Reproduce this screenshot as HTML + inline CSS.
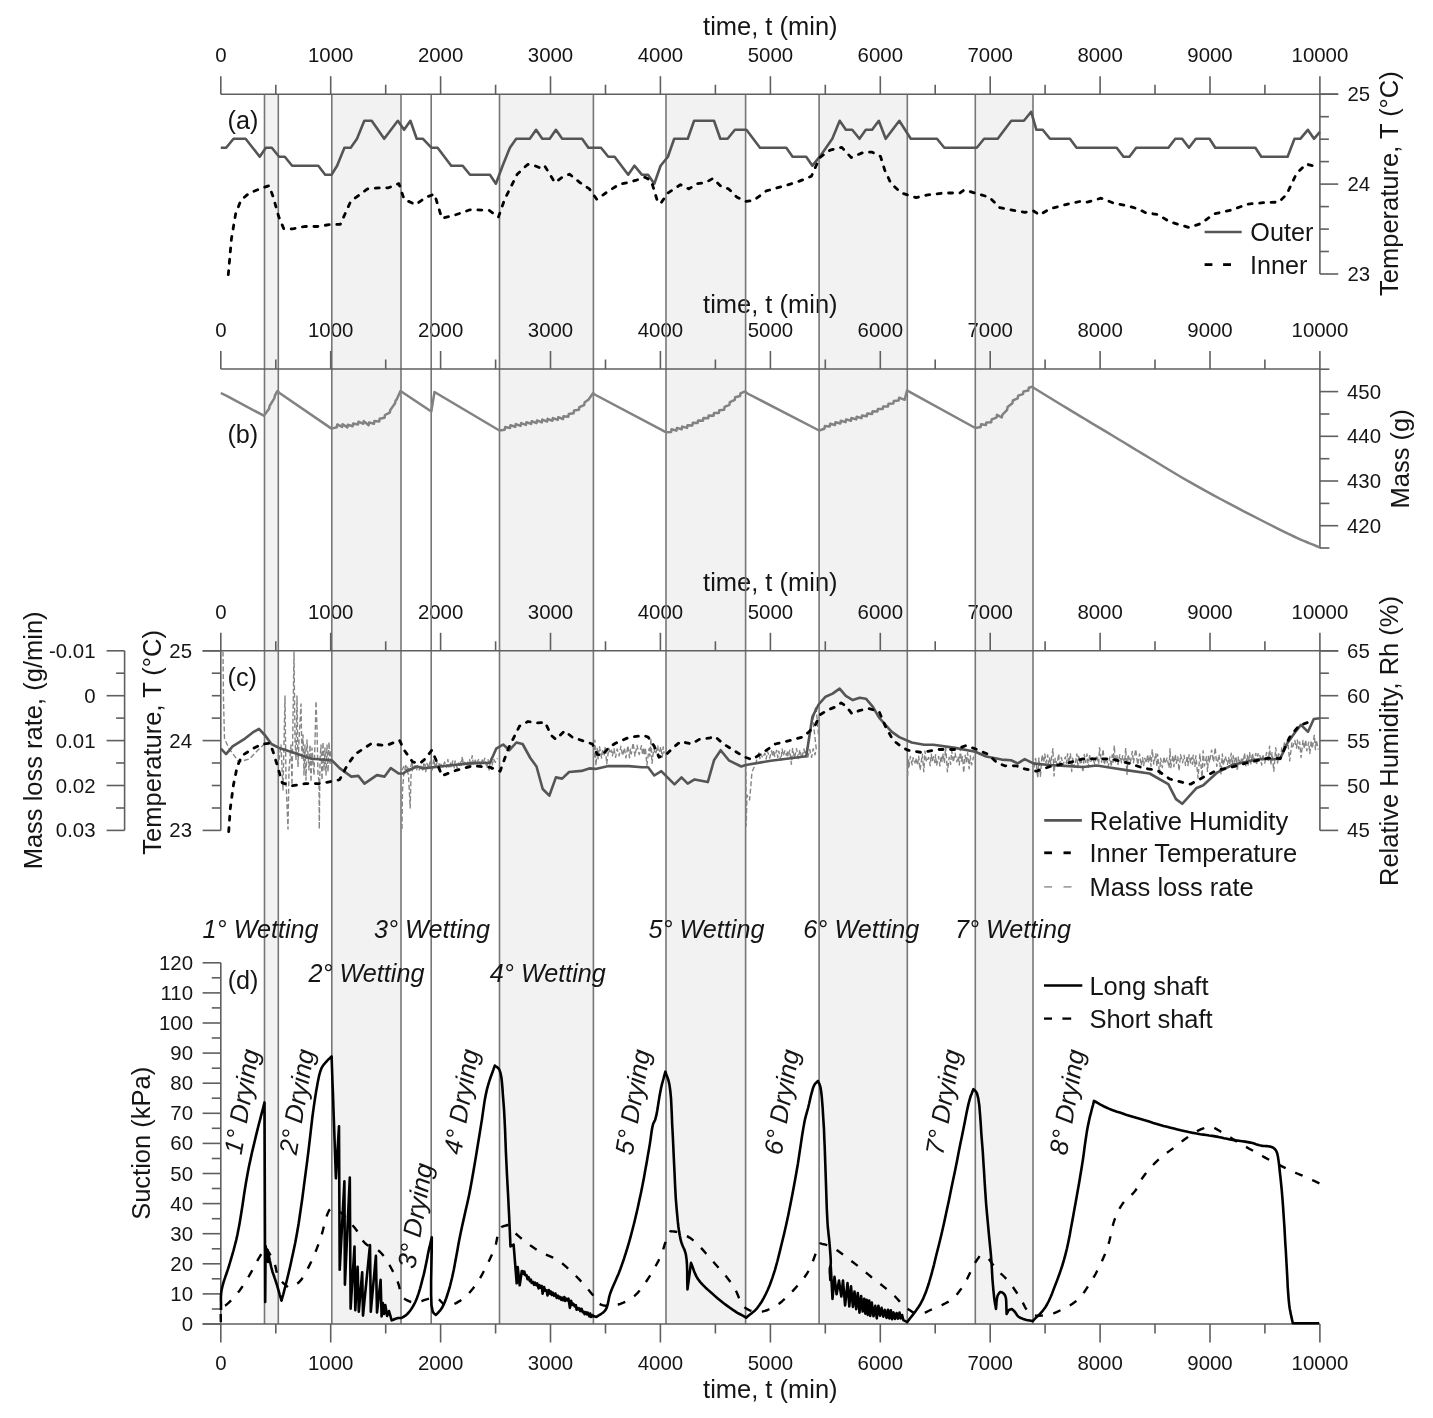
<!DOCTYPE html>
<html><head><meta charset="utf-8"><title>figure</title>
<style>
html,body{margin:0;padding:0;background:#fff;}
svg{display:block;}
text{font-family:"Liberation Sans",Arial,sans-serif;fill:#151515;}
</style></head>
<body>
<svg width="1433" height="1418" viewBox="0 0 1433 1418">
<rect width="1433" height="1418" fill="#fff"/>
<rect x="264.5" y="94.2" width="13.8" height="1229.8" fill="#f2f2f2"/>
<rect x="331.8" y="94.2" width="69.2" height="1229.8" fill="#f2f2f2"/>
<rect x="499.5" y="94.2" width="93.9" height="1229.8" fill="#f2f2f2"/>
<rect x="666.0" y="94.2" width="79.6" height="1229.8" fill="#f2f2f2"/>
<rect x="819.1" y="94.2" width="88.2" height="1229.8" fill="#f2f2f2"/>
<rect x="975.3" y="94.2" width="57.7" height="1229.8" fill="#f2f2f2"/>
<text x="770.3" y="34.5" font-size="25.2" text-anchor="middle" textLength="134.5" lengthAdjust="spacingAndGlyphs">time, t (min)</text>
<text x="770.3" y="313.1" font-size="25.2" text-anchor="middle" textLength="134.5" lengthAdjust="spacingAndGlyphs">time, t (min)</text>
<text x="770.3" y="591.4" font-size="25.2" text-anchor="middle" textLength="134.5" lengthAdjust="spacingAndGlyphs">time, t (min)</text>
<text x="770.3" y="1397.5" font-size="25.2" text-anchor="middle" textLength="134.5" lengthAdjust="spacingAndGlyphs">time, t (min)</text>
<text x="220.8" y="61.8" font-size="20.4" text-anchor="middle" >0</text>
<text x="330.7" y="61.8" font-size="20.4" text-anchor="middle" >1000</text>
<text x="440.6" y="61.8" font-size="20.4" text-anchor="middle" >2000</text>
<text x="550.5" y="61.8" font-size="20.4" text-anchor="middle" >3000</text>
<text x="660.4" y="61.8" font-size="20.4" text-anchor="middle" >4000</text>
<text x="770.4" y="61.8" font-size="20.4" text-anchor="middle" >5000</text>
<text x="880.3" y="61.8" font-size="20.4" text-anchor="middle" >6000</text>
<text x="990.2" y="61.8" font-size="20.4" text-anchor="middle" >7000</text>
<text x="1100.1" y="61.8" font-size="20.4" text-anchor="middle" >8000</text>
<text x="1210.0" y="61.8" font-size="20.4" text-anchor="middle" >9000</text>
<text x="1319.9" y="61.8" font-size="20.4" text-anchor="middle" >10000</text>
<text x="220.8" y="336.5" font-size="20.4" text-anchor="middle" >0</text>
<text x="330.7" y="336.5" font-size="20.4" text-anchor="middle" >1000</text>
<text x="440.6" y="336.5" font-size="20.4" text-anchor="middle" >2000</text>
<text x="550.5" y="336.5" font-size="20.4" text-anchor="middle" >3000</text>
<text x="660.4" y="336.5" font-size="20.4" text-anchor="middle" >4000</text>
<text x="770.4" y="336.5" font-size="20.4" text-anchor="middle" >5000</text>
<text x="880.3" y="336.5" font-size="20.4" text-anchor="middle" >6000</text>
<text x="990.2" y="336.5" font-size="20.4" text-anchor="middle" >7000</text>
<text x="1100.1" y="336.5" font-size="20.4" text-anchor="middle" >8000</text>
<text x="1210.0" y="336.5" font-size="20.4" text-anchor="middle" >9000</text>
<text x="1319.9" y="336.5" font-size="20.4" text-anchor="middle" >10000</text>
<text x="220.8" y="618.5" font-size="20.4" text-anchor="middle" >0</text>
<text x="330.7" y="618.5" font-size="20.4" text-anchor="middle" >1000</text>
<text x="440.6" y="618.5" font-size="20.4" text-anchor="middle" >2000</text>
<text x="550.5" y="618.5" font-size="20.4" text-anchor="middle" >3000</text>
<text x="660.4" y="618.5" font-size="20.4" text-anchor="middle" >4000</text>
<text x="770.4" y="618.5" font-size="20.4" text-anchor="middle" >5000</text>
<text x="880.3" y="618.5" font-size="20.4" text-anchor="middle" >6000</text>
<text x="990.2" y="618.5" font-size="20.4" text-anchor="middle" >7000</text>
<text x="1100.1" y="618.5" font-size="20.4" text-anchor="middle" >8000</text>
<text x="1210.0" y="618.5" font-size="20.4" text-anchor="middle" >9000</text>
<text x="1319.9" y="618.5" font-size="20.4" text-anchor="middle" >10000</text>
<text x="220.8" y="1369.5" font-size="20.4" text-anchor="middle" >0</text>
<text x="330.7" y="1369.5" font-size="20.4" text-anchor="middle" >1000</text>
<text x="440.6" y="1369.5" font-size="20.4" text-anchor="middle" >2000</text>
<text x="550.5" y="1369.5" font-size="20.4" text-anchor="middle" >3000</text>
<text x="660.4" y="1369.5" font-size="20.4" text-anchor="middle" >4000</text>
<text x="770.4" y="1369.5" font-size="20.4" text-anchor="middle" >5000</text>
<text x="880.3" y="1369.5" font-size="20.4" text-anchor="middle" >6000</text>
<text x="990.2" y="1369.5" font-size="20.4" text-anchor="middle" >7000</text>
<text x="1100.1" y="1369.5" font-size="20.4" text-anchor="middle" >8000</text>
<text x="1210.0" y="1369.5" font-size="20.4" text-anchor="middle" >9000</text>
<text x="1319.9" y="1369.5" font-size="20.4" text-anchor="middle" >10000</text>
<text x="227.6" y="129.3" font-size="25.2" text-anchor="start" >(a)</text>
<text x="227.4" y="442.5" font-size="25.2" text-anchor="start" >(b)</text>
<text x="227.6" y="685.5" font-size="25.2" text-anchor="start" >(c)</text>
<text x="227.7" y="988.5" font-size="25.2" text-anchor="start" >(d)</text>
<line x1="264.5" y1="94.2" x2="264.5" y2="1324.0" stroke="#767676" stroke-width="1.6"/>
<line x1="278.3" y1="94.2" x2="278.3" y2="1324.0" stroke="#767676" stroke-width="1.6"/>
<line x1="331.8" y1="94.2" x2="331.8" y2="1324.0" stroke="#767676" stroke-width="1.6"/>
<line x1="401.0" y1="94.2" x2="401.0" y2="1324.0" stroke="#767676" stroke-width="1.6"/>
<line x1="431.2" y1="94.2" x2="431.2" y2="1324.0" stroke="#767676" stroke-width="1.6"/>
<line x1="499.5" y1="94.2" x2="499.5" y2="1324.0" stroke="#767676" stroke-width="1.6"/>
<line x1="593.4" y1="94.2" x2="593.4" y2="1324.0" stroke="#767676" stroke-width="1.6"/>
<line x1="666.0" y1="94.2" x2="666.0" y2="1324.0" stroke="#767676" stroke-width="1.6"/>
<line x1="745.6" y1="94.2" x2="745.6" y2="1324.0" stroke="#767676" stroke-width="1.6"/>
<line x1="819.1" y1="94.2" x2="819.1" y2="1324.0" stroke="#767676" stroke-width="1.6"/>
<line x1="907.3" y1="94.2" x2="907.3" y2="1324.0" stroke="#767676" stroke-width="1.6"/>
<line x1="975.3" y1="94.2" x2="975.3" y2="1324.0" stroke="#767676" stroke-width="1.6"/>
<line x1="1033.0" y1="94.2" x2="1033.0" y2="1324.0" stroke="#767676" stroke-width="1.6"/>
<line x1="220.8" y1="94.2" x2="1319.9" y2="94.2" stroke="#5f5f5f" stroke-width="1.6"/>
<line x1="220.8" y1="94.2" x2="220.8" y2="76.2" stroke="#5f5f5f" stroke-width="1.6"/>
<line x1="275.8" y1="94.2" x2="275.8" y2="84.7" stroke="#5f5f5f" stroke-width="1.6"/>
<line x1="330.7" y1="94.2" x2="330.7" y2="76.2" stroke="#5f5f5f" stroke-width="1.6"/>
<line x1="385.7" y1="94.2" x2="385.7" y2="84.7" stroke="#5f5f5f" stroke-width="1.6"/>
<line x1="440.6" y1="94.2" x2="440.6" y2="76.2" stroke="#5f5f5f" stroke-width="1.6"/>
<line x1="495.6" y1="94.2" x2="495.6" y2="84.7" stroke="#5f5f5f" stroke-width="1.6"/>
<line x1="550.5" y1="94.2" x2="550.5" y2="76.2" stroke="#5f5f5f" stroke-width="1.6"/>
<line x1="605.5" y1="94.2" x2="605.5" y2="84.7" stroke="#5f5f5f" stroke-width="1.6"/>
<line x1="660.4" y1="94.2" x2="660.4" y2="76.2" stroke="#5f5f5f" stroke-width="1.6"/>
<line x1="715.4" y1="94.2" x2="715.4" y2="84.7" stroke="#5f5f5f" stroke-width="1.6"/>
<line x1="770.4" y1="94.2" x2="770.4" y2="76.2" stroke="#5f5f5f" stroke-width="1.6"/>
<line x1="825.3" y1="94.2" x2="825.3" y2="84.7" stroke="#5f5f5f" stroke-width="1.6"/>
<line x1="880.3" y1="94.2" x2="880.3" y2="76.2" stroke="#5f5f5f" stroke-width="1.6"/>
<line x1="935.2" y1="94.2" x2="935.2" y2="84.7" stroke="#5f5f5f" stroke-width="1.6"/>
<line x1="990.2" y1="94.2" x2="990.2" y2="76.2" stroke="#5f5f5f" stroke-width="1.6"/>
<line x1="1045.1" y1="94.2" x2="1045.1" y2="84.7" stroke="#5f5f5f" stroke-width="1.6"/>
<line x1="1100.1" y1="94.2" x2="1100.1" y2="76.2" stroke="#5f5f5f" stroke-width="1.6"/>
<line x1="1155.0" y1="94.2" x2="1155.0" y2="84.7" stroke="#5f5f5f" stroke-width="1.6"/>
<line x1="1210.0" y1="94.2" x2="1210.0" y2="76.2" stroke="#5f5f5f" stroke-width="1.6"/>
<line x1="1264.9" y1="94.2" x2="1264.9" y2="84.7" stroke="#5f5f5f" stroke-width="1.6"/>
<line x1="1319.9" y1="94.2" x2="1319.9" y2="76.2" stroke="#5f5f5f" stroke-width="1.6"/>
<line x1="1319.9" y1="94.2" x2="1319.9" y2="274.0" stroke="#5f5f5f" stroke-width="1.6"/>
<line x1="1319.9" y1="94.2" x2="1338.2" y2="94.2" stroke="#5f5f5f" stroke-width="1.6"/>
<line x1="1319.9" y1="94.2" x2="1338.2" y2="94.2" stroke="#5f5f5f" stroke-width="1.6"/>
<line x1="1319.9" y1="116.7" x2="1328.9" y2="116.7" stroke="#5f5f5f" stroke-width="1.6"/>
<line x1="1319.9" y1="139.2" x2="1328.9" y2="139.2" stroke="#5f5f5f" stroke-width="1.6"/>
<line x1="1319.9" y1="161.6" x2="1328.9" y2="161.6" stroke="#5f5f5f" stroke-width="1.6"/>
<line x1="1319.9" y1="184.1" x2="1338.2" y2="184.1" stroke="#5f5f5f" stroke-width="1.6"/>
<line x1="1319.9" y1="206.6" x2="1328.9" y2="206.6" stroke="#5f5f5f" stroke-width="1.6"/>
<line x1="1319.9" y1="229.1" x2="1328.9" y2="229.1" stroke="#5f5f5f" stroke-width="1.6"/>
<line x1="1319.9" y1="251.5" x2="1328.9" y2="251.5" stroke="#5f5f5f" stroke-width="1.6"/>
<line x1="1319.9" y1="274.0" x2="1338.2" y2="274.0" stroke="#5f5f5f" stroke-width="1.6"/>
<text x="1347.5" y="101.2" font-size="20.4" text-anchor="start" >25</text>
<text x="1347.5" y="191.1" font-size="20.4" text-anchor="start" >24</text>
<text x="1347.5" y="281.0" font-size="20.4" text-anchor="start" >23</text>
<line x1="220.8" y1="369.0" x2="1319.9" y2="369.0" stroke="#5f5f5f" stroke-width="1.6"/>
<line x1="220.8" y1="369.0" x2="220.8" y2="351.0" stroke="#5f5f5f" stroke-width="1.6"/>
<line x1="275.8" y1="369.0" x2="275.8" y2="359.5" stroke="#5f5f5f" stroke-width="1.6"/>
<line x1="330.7" y1="369.0" x2="330.7" y2="351.0" stroke="#5f5f5f" stroke-width="1.6"/>
<line x1="385.7" y1="369.0" x2="385.7" y2="359.5" stroke="#5f5f5f" stroke-width="1.6"/>
<line x1="440.6" y1="369.0" x2="440.6" y2="351.0" stroke="#5f5f5f" stroke-width="1.6"/>
<line x1="495.6" y1="369.0" x2="495.6" y2="359.5" stroke="#5f5f5f" stroke-width="1.6"/>
<line x1="550.5" y1="369.0" x2="550.5" y2="351.0" stroke="#5f5f5f" stroke-width="1.6"/>
<line x1="605.5" y1="369.0" x2="605.5" y2="359.5" stroke="#5f5f5f" stroke-width="1.6"/>
<line x1="660.4" y1="369.0" x2="660.4" y2="351.0" stroke="#5f5f5f" stroke-width="1.6"/>
<line x1="715.4" y1="369.0" x2="715.4" y2="359.5" stroke="#5f5f5f" stroke-width="1.6"/>
<line x1="770.4" y1="369.0" x2="770.4" y2="351.0" stroke="#5f5f5f" stroke-width="1.6"/>
<line x1="825.3" y1="369.0" x2="825.3" y2="359.5" stroke="#5f5f5f" stroke-width="1.6"/>
<line x1="880.3" y1="369.0" x2="880.3" y2="351.0" stroke="#5f5f5f" stroke-width="1.6"/>
<line x1="935.2" y1="369.0" x2="935.2" y2="359.5" stroke="#5f5f5f" stroke-width="1.6"/>
<line x1="990.2" y1="369.0" x2="990.2" y2="351.0" stroke="#5f5f5f" stroke-width="1.6"/>
<line x1="1045.1" y1="369.0" x2="1045.1" y2="359.5" stroke="#5f5f5f" stroke-width="1.6"/>
<line x1="1100.1" y1="369.0" x2="1100.1" y2="351.0" stroke="#5f5f5f" stroke-width="1.6"/>
<line x1="1155.0" y1="369.0" x2="1155.0" y2="359.5" stroke="#5f5f5f" stroke-width="1.6"/>
<line x1="1210.0" y1="369.0" x2="1210.0" y2="351.0" stroke="#5f5f5f" stroke-width="1.6"/>
<line x1="1264.9" y1="369.0" x2="1264.9" y2="359.5" stroke="#5f5f5f" stroke-width="1.6"/>
<line x1="1319.9" y1="369.0" x2="1319.9" y2="351.0" stroke="#5f5f5f" stroke-width="1.6"/>
<line x1="1319.9" y1="369.0" x2="1319.9" y2="548.6" stroke="#5f5f5f" stroke-width="1.6"/>
<line x1="1319.9" y1="369.2" x2="1329.4" y2="369.2" stroke="#5f5f5f" stroke-width="1.6"/>
<line x1="1319.9" y1="391.6" x2="1338.2" y2="391.6" stroke="#5f5f5f" stroke-width="1.6"/>
<line x1="1319.9" y1="414.0" x2="1329.4" y2="414.0" stroke="#5f5f5f" stroke-width="1.6"/>
<line x1="1319.9" y1="436.3" x2="1338.2" y2="436.3" stroke="#5f5f5f" stroke-width="1.6"/>
<line x1="1319.9" y1="458.7" x2="1329.4" y2="458.7" stroke="#5f5f5f" stroke-width="1.6"/>
<line x1="1319.9" y1="481.0" x2="1338.2" y2="481.0" stroke="#5f5f5f" stroke-width="1.6"/>
<line x1="1319.9" y1="503.4" x2="1329.4" y2="503.4" stroke="#5f5f5f" stroke-width="1.6"/>
<line x1="1319.9" y1="525.7" x2="1338.2" y2="525.7" stroke="#5f5f5f" stroke-width="1.6"/>
<line x1="1319.9" y1="548.0" x2="1329.4" y2="548.0" stroke="#5f5f5f" stroke-width="1.6"/>
<text x="1347.0" y="398.6" font-size="20.4" text-anchor="start" >450</text>
<text x="1347.0" y="443.3" font-size="20.4" text-anchor="start" >440</text>
<text x="1347.0" y="488.0" font-size="20.4" text-anchor="start" >430</text>
<text x="1347.0" y="532.7" font-size="20.4" text-anchor="start" >420</text>
<line x1="220.8" y1="650.8" x2="1319.9" y2="650.8" stroke="#5f5f5f" stroke-width="1.6"/>
<line x1="220.8" y1="650.8" x2="220.8" y2="632.8" stroke="#5f5f5f" stroke-width="1.6"/>
<line x1="275.8" y1="650.8" x2="275.8" y2="641.3" stroke="#5f5f5f" stroke-width="1.6"/>
<line x1="330.7" y1="650.8" x2="330.7" y2="632.8" stroke="#5f5f5f" stroke-width="1.6"/>
<line x1="385.7" y1="650.8" x2="385.7" y2="641.3" stroke="#5f5f5f" stroke-width="1.6"/>
<line x1="440.6" y1="650.8" x2="440.6" y2="632.8" stroke="#5f5f5f" stroke-width="1.6"/>
<line x1="495.6" y1="650.8" x2="495.6" y2="641.3" stroke="#5f5f5f" stroke-width="1.6"/>
<line x1="550.5" y1="650.8" x2="550.5" y2="632.8" stroke="#5f5f5f" stroke-width="1.6"/>
<line x1="605.5" y1="650.8" x2="605.5" y2="641.3" stroke="#5f5f5f" stroke-width="1.6"/>
<line x1="660.4" y1="650.8" x2="660.4" y2="632.8" stroke="#5f5f5f" stroke-width="1.6"/>
<line x1="715.4" y1="650.8" x2="715.4" y2="641.3" stroke="#5f5f5f" stroke-width="1.6"/>
<line x1="770.4" y1="650.8" x2="770.4" y2="632.8" stroke="#5f5f5f" stroke-width="1.6"/>
<line x1="825.3" y1="650.8" x2="825.3" y2="641.3" stroke="#5f5f5f" stroke-width="1.6"/>
<line x1="880.3" y1="650.8" x2="880.3" y2="632.8" stroke="#5f5f5f" stroke-width="1.6"/>
<line x1="935.2" y1="650.8" x2="935.2" y2="641.3" stroke="#5f5f5f" stroke-width="1.6"/>
<line x1="990.2" y1="650.8" x2="990.2" y2="632.8" stroke="#5f5f5f" stroke-width="1.6"/>
<line x1="1045.1" y1="650.8" x2="1045.1" y2="641.3" stroke="#5f5f5f" stroke-width="1.6"/>
<line x1="1100.1" y1="650.8" x2="1100.1" y2="632.8" stroke="#5f5f5f" stroke-width="1.6"/>
<line x1="1155.0" y1="650.8" x2="1155.0" y2="641.3" stroke="#5f5f5f" stroke-width="1.6"/>
<line x1="1210.0" y1="650.8" x2="1210.0" y2="632.8" stroke="#5f5f5f" stroke-width="1.6"/>
<line x1="1264.9" y1="650.8" x2="1264.9" y2="641.3" stroke="#5f5f5f" stroke-width="1.6"/>
<line x1="1319.9" y1="650.8" x2="1319.9" y2="632.8" stroke="#5f5f5f" stroke-width="1.6"/>
<line x1="202.6" y1="650.8" x2="220.8" y2="650.8" stroke="#5f5f5f" stroke-width="1.6"/>
<line x1="220.8" y1="650.8" x2="220.8" y2="830.4" stroke="#5f5f5f" stroke-width="1.6"/>
<line x1="1319.9" y1="650.8" x2="1319.9" y2="830.4" stroke="#5f5f5f" stroke-width="1.6"/>
<line x1="1319.9" y1="650.8" x2="1338.2" y2="650.8" stroke="#5f5f5f" stroke-width="1.6"/>
<line x1="202.6" y1="650.8" x2="220.8" y2="650.8" stroke="#5f5f5f" stroke-width="1.6"/>
<line x1="1319.9" y1="650.8" x2="1338.2" y2="650.8" stroke="#5f5f5f" stroke-width="1.6"/>
<line x1="211.8" y1="673.2" x2="220.8" y2="673.2" stroke="#5f5f5f" stroke-width="1.6"/>
<line x1="1319.9" y1="673.2" x2="1328.9" y2="673.2" stroke="#5f5f5f" stroke-width="1.6"/>
<line x1="211.8" y1="695.7" x2="220.8" y2="695.7" stroke="#5f5f5f" stroke-width="1.6"/>
<line x1="1319.9" y1="695.7" x2="1338.2" y2="695.7" stroke="#5f5f5f" stroke-width="1.6"/>
<line x1="211.8" y1="718.1" x2="220.8" y2="718.1" stroke="#5f5f5f" stroke-width="1.6"/>
<line x1="1319.9" y1="718.1" x2="1328.9" y2="718.1" stroke="#5f5f5f" stroke-width="1.6"/>
<line x1="202.6" y1="740.6" x2="220.8" y2="740.6" stroke="#5f5f5f" stroke-width="1.6"/>
<line x1="1319.9" y1="740.6" x2="1338.2" y2="740.6" stroke="#5f5f5f" stroke-width="1.6"/>
<line x1="211.8" y1="763.0" x2="220.8" y2="763.0" stroke="#5f5f5f" stroke-width="1.6"/>
<line x1="1319.9" y1="763.0" x2="1328.9" y2="763.0" stroke="#5f5f5f" stroke-width="1.6"/>
<line x1="211.8" y1="785.5" x2="220.8" y2="785.5" stroke="#5f5f5f" stroke-width="1.6"/>
<line x1="1319.9" y1="785.5" x2="1338.2" y2="785.5" stroke="#5f5f5f" stroke-width="1.6"/>
<line x1="211.8" y1="808.0" x2="220.8" y2="808.0" stroke="#5f5f5f" stroke-width="1.6"/>
<line x1="1319.9" y1="808.0" x2="1328.9" y2="808.0" stroke="#5f5f5f" stroke-width="1.6"/>
<line x1="202.6" y1="830.4" x2="220.8" y2="830.4" stroke="#5f5f5f" stroke-width="1.6"/>
<line x1="1319.9" y1="830.4" x2="1338.2" y2="830.4" stroke="#5f5f5f" stroke-width="1.6"/>
<text x="192.0" y="657.8" font-size="20.4" text-anchor="end" >25</text>
<text x="192.0" y="747.6" font-size="20.4" text-anchor="end" >24</text>
<text x="192.0" y="837.4" font-size="20.4" text-anchor="end" >23</text>
<text x="1347.1" y="657.8" font-size="20.4" text-anchor="start" >65</text>
<text x="1347.1" y="702.7" font-size="20.4" text-anchor="start" >60</text>
<text x="1347.1" y="747.6" font-size="20.4" text-anchor="start" >55</text>
<text x="1347.1" y="792.5" font-size="20.4" text-anchor="start" >50</text>
<text x="1347.1" y="837.4" font-size="20.4" text-anchor="start" >45</text>
<line x1="124.6" y1="650.8" x2="124.6" y2="830.4" stroke="#5f5f5f" stroke-width="1.6"/>
<line x1="106.6" y1="650.8" x2="124.6" y2="650.8" stroke="#5f5f5f" stroke-width="1.6"/>
<line x1="116.1" y1="673.2" x2="124.6" y2="673.2" stroke="#5f5f5f" stroke-width="1.6"/>
<line x1="106.6" y1="695.7" x2="124.6" y2="695.7" stroke="#5f5f5f" stroke-width="1.6"/>
<line x1="116.1" y1="718.1" x2="124.6" y2="718.1" stroke="#5f5f5f" stroke-width="1.6"/>
<line x1="106.6" y1="740.6" x2="124.6" y2="740.6" stroke="#5f5f5f" stroke-width="1.6"/>
<line x1="116.1" y1="763.0" x2="124.6" y2="763.0" stroke="#5f5f5f" stroke-width="1.6"/>
<line x1="106.6" y1="785.5" x2="124.6" y2="785.5" stroke="#5f5f5f" stroke-width="1.6"/>
<line x1="116.1" y1="808.0" x2="124.6" y2="808.0" stroke="#5f5f5f" stroke-width="1.6"/>
<line x1="106.6" y1="830.4" x2="124.6" y2="830.4" stroke="#5f5f5f" stroke-width="1.6"/>
<text x="95.5" y="657.8" font-size="20.4" text-anchor="end" >-0.01</text>
<text x="95.5" y="702.7" font-size="20.4" text-anchor="end" >0</text>
<text x="95.5" y="747.6" font-size="20.4" text-anchor="end" >0.01</text>
<text x="95.5" y="792.5" font-size="20.4" text-anchor="end" >0.02</text>
<text x="95.5" y="837.4" font-size="20.4" text-anchor="end" >0.03</text>
<line x1="202.6" y1="1324.0" x2="1319.9" y2="1324.0" stroke="#5f5f5f" stroke-width="1.6"/>
<line x1="220.8" y1="962.8" x2="220.8" y2="1324.0" stroke="#5f5f5f" stroke-width="1.6"/>
<line x1="220.8" y1="1324.0" x2="220.8" y2="1342.5" stroke="#5f5f5f" stroke-width="1.6"/>
<line x1="275.8" y1="1324.0" x2="275.8" y2="1333.5" stroke="#5f5f5f" stroke-width="1.6"/>
<line x1="330.7" y1="1324.0" x2="330.7" y2="1342.5" stroke="#5f5f5f" stroke-width="1.6"/>
<line x1="385.7" y1="1324.0" x2="385.7" y2="1333.5" stroke="#5f5f5f" stroke-width="1.6"/>
<line x1="440.6" y1="1324.0" x2="440.6" y2="1342.5" stroke="#5f5f5f" stroke-width="1.6"/>
<line x1="495.6" y1="1324.0" x2="495.6" y2="1333.5" stroke="#5f5f5f" stroke-width="1.6"/>
<line x1="550.5" y1="1324.0" x2="550.5" y2="1342.5" stroke="#5f5f5f" stroke-width="1.6"/>
<line x1="605.5" y1="1324.0" x2="605.5" y2="1333.5" stroke="#5f5f5f" stroke-width="1.6"/>
<line x1="660.4" y1="1324.0" x2="660.4" y2="1342.5" stroke="#5f5f5f" stroke-width="1.6"/>
<line x1="715.4" y1="1324.0" x2="715.4" y2="1333.5" stroke="#5f5f5f" stroke-width="1.6"/>
<line x1="770.4" y1="1324.0" x2="770.4" y2="1342.5" stroke="#5f5f5f" stroke-width="1.6"/>
<line x1="825.3" y1="1324.0" x2="825.3" y2="1333.5" stroke="#5f5f5f" stroke-width="1.6"/>
<line x1="880.3" y1="1324.0" x2="880.3" y2="1342.5" stroke="#5f5f5f" stroke-width="1.6"/>
<line x1="935.2" y1="1324.0" x2="935.2" y2="1333.5" stroke="#5f5f5f" stroke-width="1.6"/>
<line x1="990.2" y1="1324.0" x2="990.2" y2="1342.5" stroke="#5f5f5f" stroke-width="1.6"/>
<line x1="1045.1" y1="1324.0" x2="1045.1" y2="1333.5" stroke="#5f5f5f" stroke-width="1.6"/>
<line x1="1100.1" y1="1324.0" x2="1100.1" y2="1342.5" stroke="#5f5f5f" stroke-width="1.6"/>
<line x1="1155.0" y1="1324.0" x2="1155.0" y2="1333.5" stroke="#5f5f5f" stroke-width="1.6"/>
<line x1="1210.0" y1="1324.0" x2="1210.0" y2="1342.5" stroke="#5f5f5f" stroke-width="1.6"/>
<line x1="1264.9" y1="1324.0" x2="1264.9" y2="1333.5" stroke="#5f5f5f" stroke-width="1.6"/>
<line x1="1319.9" y1="1324.0" x2="1319.9" y2="1342.5" stroke="#5f5f5f" stroke-width="1.6"/>
<line x1="202.6" y1="1324.0" x2="220.8" y2="1324.0" stroke="#5f5f5f" stroke-width="1.6"/>
<text x="193.0" y="1331.0" font-size="20.4" text-anchor="end" >0</text>
<line x1="211.8" y1="1309.0" x2="220.8" y2="1309.0" stroke="#5f5f5f" stroke-width="1.6"/>
<line x1="202.6" y1="1293.9" x2="220.8" y2="1293.9" stroke="#5f5f5f" stroke-width="1.6"/>
<text x="193.0" y="1300.9" font-size="20.4" text-anchor="end" >10</text>
<line x1="211.8" y1="1278.8" x2="220.8" y2="1278.8" stroke="#5f5f5f" stroke-width="1.6"/>
<line x1="202.6" y1="1263.8" x2="220.8" y2="1263.8" stroke="#5f5f5f" stroke-width="1.6"/>
<text x="193.0" y="1270.8" font-size="20.4" text-anchor="end" >20</text>
<line x1="211.8" y1="1248.8" x2="220.8" y2="1248.8" stroke="#5f5f5f" stroke-width="1.6"/>
<line x1="202.6" y1="1233.7" x2="220.8" y2="1233.7" stroke="#5f5f5f" stroke-width="1.6"/>
<text x="193.0" y="1240.7" font-size="20.4" text-anchor="end" >30</text>
<line x1="211.8" y1="1218.7" x2="220.8" y2="1218.7" stroke="#5f5f5f" stroke-width="1.6"/>
<line x1="202.6" y1="1203.6" x2="220.8" y2="1203.6" stroke="#5f5f5f" stroke-width="1.6"/>
<text x="193.0" y="1210.6" font-size="20.4" text-anchor="end" >40</text>
<line x1="211.8" y1="1188.5" x2="220.8" y2="1188.5" stroke="#5f5f5f" stroke-width="1.6"/>
<line x1="202.6" y1="1173.5" x2="220.8" y2="1173.5" stroke="#5f5f5f" stroke-width="1.6"/>
<text x="193.0" y="1180.5" font-size="20.4" text-anchor="end" >50</text>
<line x1="211.8" y1="1158.5" x2="220.8" y2="1158.5" stroke="#5f5f5f" stroke-width="1.6"/>
<line x1="202.6" y1="1143.4" x2="220.8" y2="1143.4" stroke="#5f5f5f" stroke-width="1.6"/>
<text x="193.0" y="1150.4" font-size="20.4" text-anchor="end" >60</text>
<line x1="211.8" y1="1128.3" x2="220.8" y2="1128.3" stroke="#5f5f5f" stroke-width="1.6"/>
<line x1="202.6" y1="1113.3" x2="220.8" y2="1113.3" stroke="#5f5f5f" stroke-width="1.6"/>
<text x="193.0" y="1120.3" font-size="20.4" text-anchor="end" >70</text>
<line x1="211.8" y1="1098.2" x2="220.8" y2="1098.2" stroke="#5f5f5f" stroke-width="1.6"/>
<line x1="202.6" y1="1083.2" x2="220.8" y2="1083.2" stroke="#5f5f5f" stroke-width="1.6"/>
<text x="193.0" y="1090.2" font-size="20.4" text-anchor="end" >80</text>
<line x1="211.8" y1="1068.2" x2="220.8" y2="1068.2" stroke="#5f5f5f" stroke-width="1.6"/>
<line x1="202.6" y1="1053.1" x2="220.8" y2="1053.1" stroke="#5f5f5f" stroke-width="1.6"/>
<text x="193.0" y="1060.1" font-size="20.4" text-anchor="end" >90</text>
<line x1="211.8" y1="1038.0" x2="220.8" y2="1038.0" stroke="#5f5f5f" stroke-width="1.6"/>
<line x1="202.6" y1="1023.0" x2="220.8" y2="1023.0" stroke="#5f5f5f" stroke-width="1.6"/>
<text x="193.0" y="1030.0" font-size="20.4" text-anchor="end" >100</text>
<line x1="211.8" y1="1007.9" x2="220.8" y2="1007.9" stroke="#5f5f5f" stroke-width="1.6"/>
<line x1="202.6" y1="992.9" x2="220.8" y2="992.9" stroke="#5f5f5f" stroke-width="1.6"/>
<text x="193.0" y="999.9" font-size="20.4" text-anchor="end" >110</text>
<line x1="211.8" y1="977.8" x2="220.8" y2="977.8" stroke="#5f5f5f" stroke-width="1.6"/>
<line x1="202.6" y1="962.8" x2="220.8" y2="962.8" stroke="#5f5f5f" stroke-width="1.6"/>
<text x="193.0" y="969.8" font-size="20.4" text-anchor="end" >120</text>
<text transform="translate(1397.6,183.6) rotate(-90)" x="0" y="0" font-size="25.5" text-anchor="middle">Temperature, T (&#176;C)</text>
<text transform="translate(1409.0,458.8) rotate(-90)" x="0" y="0" font-size="25.5" text-anchor="middle">Mass (g)</text>
<text transform="translate(1397.8,741.0) rotate(-90)" x="0" y="0" font-size="25.5" text-anchor="middle">Relative Humidity, Rh (%)</text>
<text transform="translate(161.4,742.4) rotate(-90)" x="0" y="0" font-size="25.5" text-anchor="middle">Temperature, T (&#176;C)</text>
<text transform="translate(41.7,740.4) rotate(-90)" x="0" y="0" font-size="25.5" text-anchor="middle">Mass loss rate, (g/min)</text>
<text transform="translate(150.4,1143.3) rotate(-90)" x="0" y="0" font-size="25.5" text-anchor="middle">Suction (kPa)</text>
<line x1="1204.6" y1="232.0" x2="1241.7" y2="232.0" stroke="#555555" stroke-width="2.6"/>
<text x="1250.3" y="240.8" font-size="25.2" text-anchor="start" >Outer</text>
<line x1="1204.6" y1="264.6" x2="1212.4" y2="264.6" stroke="#000" stroke-width="2.8"/>
<line x1="1223.1" y1="264.6" x2="1231.0" y2="264.6" stroke="#000" stroke-width="2.8"/>
<text x="1250.0" y="273.5" font-size="25.2" text-anchor="start" >Inner</text>
<line x1="1044.2" y1="820.4" x2="1081.9" y2="820.4" stroke="#555555" stroke-width="2.6"/>
<text x="1089.8" y="829.5" font-size="25.5" text-anchor="start" >Relative Humidity</text>
<line x1="1044.2" y1="852.8" x2="1052.0" y2="852.8" stroke="#000" stroke-width="2.8"/>
<line x1="1063.5" y1="852.8" x2="1070.8" y2="852.8" stroke="#000" stroke-width="2.8"/>
<text x="1089.4" y="862.0" font-size="25.5" text-anchor="start" >Inner Temperature</text>
<line x1="1044.2" y1="886.9" x2="1052.0" y2="886.9" stroke="#8a8a8a" stroke-width="1.4"/>
<line x1="1063.5" y1="886.9" x2="1071.5" y2="886.9" stroke="#8a8a8a" stroke-width="1.4"/>
<text x="1089.4" y="895.5" font-size="25.5" text-anchor="start" >Mass loss rate</text>
<line x1="1044.0" y1="985.5" x2="1082.3" y2="985.5" stroke="#000" stroke-width="2.3"/>
<text x="1089.4" y="995.0" font-size="25.5" text-anchor="start" >Long shaft</text>
<line x1="1044.0" y1="1018.6" x2="1052.0" y2="1018.6" stroke="#000" stroke-width="2.3"/>
<line x1="1062.4" y1="1018.6" x2="1071.2" y2="1018.6" stroke="#000" stroke-width="2.3"/>
<text x="1089.4" y="1027.8" font-size="25.5" text-anchor="start" >Short shaft</text>
<text x="202.6" y="937.7" font-size="25.2" text-anchor="start"  style="font-style:italic">1&#176; Wetting</text>
<text x="308.4" y="982.3" font-size="25.2" text-anchor="start"  style="font-style:italic">2&#176; Wetting</text>
<text x="374.0" y="937.7" font-size="25.2" text-anchor="start"  style="font-style:italic">3&#176; Wetting</text>
<text x="489.8" y="982.3" font-size="25.2" text-anchor="start"  style="font-style:italic">4&#176; Wetting</text>
<text x="648.4" y="938.3" font-size="25.2" text-anchor="start"  style="font-style:italic">5&#176; Wetting</text>
<text x="803.3" y="938.3" font-size="25.2" text-anchor="start"  style="font-style:italic">6&#176; Wetting</text>
<text x="954.9" y="938.3" font-size="25.2" text-anchor="start"  style="font-style:italic">7&#176; Wetting</text>
<text transform="translate(241.4,1155.6) rotate(-80.3)" x="0" y="0" font-size="25.8" style="font-style:italic">1&#176; Drying</text>
<text transform="translate(296.5,1155.6) rotate(-80.3)" x="0" y="0" font-size="25.8" style="font-style:italic">2&#176; Drying</text>
<text transform="translate(415.0,1269.6) rotate(-80.3)" x="0" y="0" font-size="25.8" style="font-style:italic">3&#176; Drying</text>
<text transform="translate(460.9,1155.6) rotate(-80.3)" x="0" y="0" font-size="25.8" style="font-style:italic">4&#176; Drying</text>
<text transform="translate(632.5,1156.0) rotate(-80.3)" x="0" y="0" font-size="25.8" style="font-style:italic">5&#176; Drying</text>
<text transform="translate(781.4,1156.0) rotate(-80.3)" x="0" y="0" font-size="25.8" style="font-style:italic">6&#176; Drying</text>
<text transform="translate(943.1,1156.0) rotate(-80.3)" x="0" y="0" font-size="25.8" style="font-style:italic">7&#176; Drying</text>
<text transform="translate(1066.8,1156.0) rotate(-80.3)" x="0" y="0" font-size="25.8" style="font-style:italic">8&#176; Drying</text>
<polyline points="220.8,147.7 226.2,147.7 233.5,138.8 245.6,138.8 259.7,156.7 265.9,147.7 271.8,147.7 279.1,156.7 284.8,156.7 292.1,165.7 318.3,165.7 325.2,174.7 331.5,174.7 337.1,165.7 344.4,147.7 350.7,147.7 357.0,138.8 364.3,120.8 371.7,120.8 384.2,138.8 397.8,120.8 404.1,129.8 410.4,120.8 416.7,138.8 423.0,138.8 431.3,147.7 437.6,147.7 451.2,165.7 462.7,165.7 470.0,174.7 489.9,174.7 495.9,183.7 502.6,165.7 509.9,147.7 516.2,138.8 529.8,138.8 536.1,129.8 542.3,138.8 549.7,138.8 555.9,129.8 562.2,138.8 582.1,138.8 588.4,147.7 601.0,147.7 608.3,156.7 614.6,156.7 628.2,174.7 634.4,165.7 641.8,174.7 648.0,174.7 654.3,183.7 660.6,165.7 667.9,156.7 674.2,138.8 687.8,138.8 694.1,120.8 714.0,120.8 720.3,138.8 727.6,138.8 734.9,129.8 746.4,129.8 760.0,147.7 786.3,147.7 792.6,156.7 806.2,156.7 812.4,165.7 819.8,156.7 832.3,138.8 839.7,120.8 845.9,129.8 852.2,129.8 859.5,138.8 865.8,129.8 872.1,129.8 878.8,120.8 885.7,138.8 899.3,120.8 910.8,138.8 937.0,138.8 944.3,147.7 976.8,147.7 984.1,138.8 997.7,138.8 1011.3,120.8 1023.9,120.8 1031.2,111.8 1036.4,129.8 1042.7,129.8 1050.0,138.8 1069.9,138.8 1076.6,147.7 1116.7,147.7 1123.5,156.7 1129.4,156.7 1136.2,147.7 1168.4,147.7 1175.3,138.8 1182.1,138.8 1189.0,147.7 1195.8,138.8 1209.5,138.8 1215.3,147.7 1255.4,147.7 1261.3,156.7 1287.6,156.7 1294.5,138.8 1300.3,138.8 1307.8,129.8 1314.0,138.8 1319.9,131.8" fill="none" stroke="#555555" stroke-width="2.6" stroke-linejoin="round" />
<polyline points="228.3,274.7 231.4,239.1 235.6,214.0 240.8,200.4 249.2,193.0 262.8,187.8 269.1,185.7 273.3,197.2 278.5,216.0 283.7,228.6 292.1,229.0 304.7,226.5 317.2,226.5 330.8,224.4 340.3,224.4 350.7,201.4 367.5,188.9 380.0,187.8 388.4,187.8 398.9,183.6 404.1,199.3 415.6,204.6 426.1,197.2 434.5,194.1 441.8,218.2 453.3,215.6 470.0,209.8 488.9,210.2 498.4,217.1 504.7,199.3 517.2,174.2 527.7,164.4 535.0,165.8 540.2,167.9 544.4,165.4 554.9,182.6 562.2,177.3 569.5,174.2 580.0,182.6 589.4,188.9 596.8,199.3 607.2,192.0 619.8,184.0 628.2,182.6 636.5,180.1 644.9,177.3 651.2,180.5 657.5,201.4 660.6,203.5 667.9,193.0 680.5,184.7 688.9,188.9 697.2,183.6 705.6,182.6 712.9,178.4 720.3,185.7 728.6,188.9 737.0,197.2 745.4,201.4 753.8,200.4 766.3,190.9 781.0,186.8 796.7,182.2 811.4,176.3 819.8,157.5 830.2,150.1 841.8,147.4 851.2,157.5 863.7,152.2 872.1,152.2 880.5,156.4 884.7,170.0 891.0,183.6 901.4,193.0 916.1,197.6 926.5,195.1 943.3,193.0 960.0,193.0 964.2,189.9 974.7,193.0 989.3,197.2 999.8,207.7 1010.3,209.8 1024.9,212.3 1033.3,210.8 1039.6,215.0 1050.0,208.7 1067.8,204.1 1081.5,201.1 1087.4,202.1 1101.0,198.2 1114.7,203.5 1128.4,206.0 1138.2,209.0 1146.0,212.9 1157.7,214.4 1169.4,221.7 1189.0,227.5 1200.7,223.6 1214.4,213.8 1232.0,209.9 1247.6,204.1 1263.2,202.7 1278.8,202.1 1286.7,194.3 1296.4,173.8 1306.2,164.0 1314.0,166.0" fill="none" stroke="#000" stroke-width="2.8" stroke-dasharray="4 7.5" stroke-linejoin="round" stroke-linecap="round"/>
<polyline points="220.8,393.0 227.2,396.2 263.8,415.7 269.1,408.7 269.6,406.0 274.4,398.2 274.9,395.5 277.5,391.0 279.5,393.0 331.5,428.6 336.8,427.2 337.3,424.4 342.1,426.9 342.6,424.2 347.4,427.4 347.9,424.7 352.7,426.2 353.2,423.5 358.0,424.4 358.5,421.7 363.3,423.8 363.8,421.1 368.6,425.2 369.1,422.4 373.9,423.8 374.4,421.1 379.2,421.4 379.7,418.7 384.5,417.7 385.0,415.0 389.8,412.6 390.3,409.9 395.1,403.3 395.6,400.6 396.8,399.3 400.5,391.0 402.0,392.0 431.3,411.5 434.5,392.0 499.4,430.5 504.7,429.7 505.2,427.0 510.0,427.9 510.5,425.2 515.3,426.8 515.8,424.1 520.6,425.9 521.1,423.1 525.9,424.9 526.4,422.2 531.2,423.9 531.7,421.2 536.5,423.1 537.0,420.4 541.8,422.4 542.3,419.6 547.1,421.6 547.6,418.8 552.4,420.8 552.9,418.1 557.7,419.9 558.2,417.2 563.0,419.0 563.5,416.3 568.3,416.7 568.8,414.0 573.6,413.3 574.1,410.6 578.9,409.8 579.4,407.1 584.2,405.0 584.7,402.3 588.4,399.8 593.2,393.1 594.7,394.5 665.8,432.2 671.1,431.9 671.6,429.2 676.4,430.6 676.9,427.9 681.7,429.3 682.2,426.6 687.0,427.9 687.5,425.2 692.3,425.5 692.8,422.8 697.6,423.1 698.1,420.4 702.9,420.7 703.4,418.0 708.2,418.3 708.7,415.5 713.5,415.7 714.0,413.0 718.8,413.0 719.3,410.3 724.1,409.7 724.6,406.9 729.4,404.8 729.9,402.1 734.7,399.9 735.2,397.2 740.0,396.0 740.5,393.3 745.0,391.4 747.5,393.5 819.1,430.5 824.4,428.8 824.9,426.1 829.7,426.5 830.2,423.8 835.0,425.0 835.5,422.3 840.3,423.5 840.8,420.8 845.6,422.1 846.1,419.4 850.9,420.8 851.4,418.0 856.2,419.4 856.7,416.7 861.5,418.1 862.0,415.4 866.8,416.2 867.3,413.5 872.1,413.9 872.6,411.2 877.4,411.6 877.9,408.9 882.7,409.1 883.2,406.4 888.0,406.5 888.5,403.8 893.3,403.6 893.8,400.9 898.6,400.4 899.1,397.7 904.6,399.8 907.1,390.4 908.7,391.4 975.3,428.0 980.6,427.1 981.1,424.3 985.9,425.1 986.4,422.4 991.2,422.2 991.7,419.4 996.5,417.6 997.0,414.8 1001.8,417.5 1002.3,414.8 1007.1,409.8 1007.6,407.0 1012.4,403.3 1012.9,400.5 1017.7,398.3 1018.2,395.6 1023.0,394.1 1023.5,391.4 1028.3,390.5 1028.8,387.8 1032.3,386.8 1034.3,388.3 1060.0,404.0 1063.3,406.0 1066.5,407.9 1069.7,409.9 1073.0,411.9 1076.4,413.9 1080.0,416.1 1084.9,419.0 1090.0,422.1 1095.4,425.3 1100.9,428.6 1106.4,431.9 1112.0,435.3 1118.1,439.0 1124.4,442.8 1130.7,446.6 1137.1,450.5 1143.6,454.3 1150.0,458.2 1156.6,462.2 1163.1,466.2 1169.7,470.2 1176.4,474.2 1183.1,478.2 1190.0,482.2 1197.5,486.4 1205.1,490.6 1212.8,494.8 1220.5,499.0 1228.3,503.1 1236.0,507.2 1243.8,511.3 1251.8,515.4 1259.8,519.5 1267.6,523.5 1274.8,527.1 1281.2,530.3 1284.8,532.1 1288.0,533.7 1291.1,535.1 1294.0,536.5 1296.9,537.9 1300.0,539.3 1303.2,540.7 1306.5,542.0 1309.7,543.4 1313.0,544.7 1316.2,546.0 1319.5,547.3" fill="none" stroke="#828282" stroke-width="2.5" stroke-linejoin="round" />
<polyline points="223.0,651.5 223.5,700.0 224.5,738.6 228.7,748.0 238.8,762.0 249.7,758.8 258.0,750.0 265.2,743.3" fill="none" stroke="#858585" stroke-width="1.4" stroke-dasharray="5 2.5" stroke-linejoin="round" />
<polyline points="279.0,760.0 281.0,745.0 283.0,790.0 285.0,696.0 286.0,781.0 288.0,829.0 289.0,770.0 291.0,745.0 292.0,785.0 294.0,652.0 295.0,739.0 296.0,760.0 297.0,696.0 298.0,767.0 299.0,740.0 301.0,704.0 302.0,760.0 303.0,735.0 304.0,775.0 305.0,745.0 306.0,780.0 307.0,740.0 309.0,770.0 310.0,745.0 311.0,782.0 312.0,748.0 314.0,775.0 315.0,742.0 316.0,701.0 317.0,728.0 318.0,775.0 319.0,781.0 319.3,829.0 320.0,760.0 321.0,745.0 322.0,780.0 323.0,742.0 324.0,770.0 325.0,748.0 326.0,775.0 327.0,745.0 328.0,772.0 329.0,742.0 330.0,765.0 331.0,750.0" fill="none" stroke="#858585" stroke-width="1.4" stroke-dasharray="5 2.5" stroke-linejoin="round" />
<polyline points="402.0,829.0 402.5,790.0 404.0,772.0 406.0,766.0 408.5,775.0 410.2,808.0 411.0,775.0 413.0,768.0 402.0,770.4 403.7,766.6 405.0,769.3 405.8,765.5 406.7,770.5 407.7,766.0 409.8,771.0 412.0,761.1 413.0,769.1 415.0,765.7 416.7,769.8 417.5,766.0 419.3,769.9 420.9,764.6 422.9,770.7 424.5,758.7 425.7,771.7 427.0,763.4 428.5,768.0 430.4,760.0 432.2,769.9 433.7,759.2 435.4,767.7 437.1,762.2 438.3,768.8 439.1,763.7 440.0,767.5 440.9,764.2 443.0,767.2 444.6,761.9 446.6,767.6 447.9,759.5 448.9,767.1 450.4,762.3 451.2,767.6 452.8,761.0 454.3,767.9 455.1,761.0 457.2,768.2 458.5,762.9 459.4,765.4 460.4,762.0 461.1,765.5 462.4,756.6 463.4,765.6 464.7,762.2 466.9,766.0 467.8,762.0 468.9,767.0 469.7,759.5 470.7,765.8 472.2,755.6 473.4,764.9 475.3,760.1 476.5,764.1 478.8,759.0 480.7,765.3 482.3,759.9 483.1,763.6 484.8,758.2 487.0,768.2 488.1,759.7 489.1,769.9 490.6,758.4 491.5,769.4 493.4,758.6 495.3,762.4 497.5,758.4" fill="none" stroke="#858585" stroke-width="1.4" stroke-dasharray="5 2.5" stroke-linejoin="round" />
<polyline points="594.0,757.6 594.9,740.2 595.9,765.7 597.2,748.3 598.0,758.8 599.5,746.7 601.6,758.0 602.7,749.3 604.3,755.0 605.3,746.6 606.7,763.8 608.8,748.2 610.4,753.5 611.4,750.2 612.4,755.8 614.0,748.8 615.6,757.3 617.1,749.0 619.1,755.8 620.9,746.1 622.6,755.7 624.4,747.9 625.9,757.8 627.9,745.7 629.5,757.7 630.5,749.1 631.3,754.0 633.1,742.8 634.9,756.1 637.0,745.3 639.2,754.5 641.4,745.7 642.8,755.0 643.8,747.8 644.6,755.2 645.4,747.7 646.9,765.1 649.1,748.5 649.9,756.2 650.9,738.4 652.0,763.4 653.8,748.4 655.6,754.1 657.8,746.0 658.6,756.3 660.7,746.8 662.3,757.0 663.2,746.9 664.1,753.3" fill="none" stroke="#858585" stroke-width="1.4" stroke-dasharray="5 2.5" stroke-linejoin="round" />
<polyline points="745.9,764.0 746.2,826.0 747.0,795.0 749.6,800.0 752.0,772.0 756.0,763.0 757.0,758.7 758.9,752.7 759.9,758.7 761.0,753.7 762.6,757.7 764.8,753.2 766.2,759.0 767.5,751.4 769.7,758.0 771.5,750.7 772.8,756.4 773.7,750.2 774.7,756.5 776.7,750.3 777.8,757.3 778.8,751.1 781.0,760.4 782.1,748.9 783.4,755.5 784.9,750.6 786.4,755.4 787.3,750.9 788.0,756.7 789.7,750.3 791.4,764.3 792.6,748.4 794.5,758.0 796.5,748.6 798.3,758.5 799.9,749.9 801.8,758.3 803.9,749.0 805.0,754.4 806.3,751.1 807.9,757.0 809.7,749.5 811.6,757.3 813.2,748.7 815.0,754.9 816.2,748.3 813.0,720.0 816.0,706.0 818.5,735.0" fill="none" stroke="#858585" stroke-width="1.4" stroke-dasharray="5 2.5" stroke-linejoin="round" />
<polyline points="907.6,776.0 908.5,760.0 909.0,766.8 910.3,756.5 912.2,764.8 913.1,757.8 915.0,763.1 915.7,758.1 917.5,765.1 918.7,756.1 920.1,770.1 922.3,754.2 923.8,771.8 924.9,751.0 926.5,761.9 928.7,757.4 930.2,765.7 931.3,754.1 932.1,761.0 933.6,756.6 934.8,762.6 935.6,754.6 936.5,765.7 938.6,756.5 939.9,766.0 941.2,755.8 942.1,761.3 943.2,753.6 944.4,763.3 945.7,747.0 947.4,771.8 949.2,757.2 950.6,764.4 951.8,750.7 953.3,762.2 955.1,753.1 956.9,761.9 958.2,756.4 959.3,765.0 960.4,748.6 961.3,761.2 962.6,756.6 963.7,772.7 965.1,755.2 966.4,761.8 967.6,752.8 969.1,768.8 970.2,755.7 971.6,764.9 973.7,756.5" fill="none" stroke="#858585" stroke-width="1.4" stroke-dasharray="5 2.5" stroke-linejoin="round" />
<polyline points="1034.0,767.4 1035.6,758.4 1037.8,778.2 1038.9,757.9 1040.4,776.2 1042.1,754.7 1043.7,762.2 1044.8,754.0 1046.0,762.8 1047.7,755.0 1048.6,765.1 1049.9,757.3 1050.7,763.8 1052.9,748.6 1054.0,776.0 1055.2,758.3 1057.0,764.5 1058.7,754.0 1059.5,764.0 1061.3,757.4 1063.1,765.0 1065.3,756.9 1066.4,763.3 1067.6,753.8 1068.7,763.3 1070.4,753.8 1071.7,771.5 1072.6,758.1 1074.7,767.3 1076.9,753.9 1077.9,767.6 1078.7,755.2 1080.1,764.0 1080.8,757.1 1083.0,772.1 1084.3,754.5 1085.7,762.3 1087.0,754.0 1088.3,767.4 1089.6,754.5 1090.5,762.2 1092.6,757.2 1094.7,764.0 1096.9,755.4 1098.7,763.9 1099.5,747.6 1101.6,762.1 1103.1,749.2 1104.2,764.6 1106.4,757.5 1108.2,766.9 1109.9,756.8 1111.2,766.7 1112.2,754.8 1113.1,762.2 1114.3,745.4 1115.4,762.5 1116.9,755.0 1118.0,764.5 1119.8,754.8 1121.5,762.7 1122.7,755.7 1124.6,763.2 1125.7,748.0 1127.0,774.5 1128.1,754.5 1130.3,762.6 1132.3,751.4 1133.5,762.7 1135.7,749.3 1137.7,764.7 1139.6,753.9 1141.3,765.7 1142.6,757.7 1143.7,765.6 1144.8,758.3 1146.5,763.1 1147.6,754.6 1148.4,762.6 1150.0,755.3 1151.0,766.2 1152.2,749.7 1153.8,764.1 1155.8,753.6 1156.9,766.4 1157.6,754.1 1159.6,774.1 1160.6,758.3 1162.3,767.5 1164.0,756.6 1165.0,763.7 1167.1,757.9 1169.1,767.8 1170.0,748.6 1170.8,767.6 1172.9,755.4 1173.9,766.7 1175.3,754.3 1176.3,763.3 1177.8,756.6 1179.0,770.7 1180.6,754.8 1182.6,762.7 1184.1,755.3 1185.5,765.4 1187.3,756.1 1188.0,765.6 1189.1,754.6 1190.6,762.9 1191.5,757.6 1192.4,764.4 1193.2,755.1 1195.0,766.4 1195.9,755.7 1198.0,778.0 1199.9,754.1 1202.1,777.2 1203.1,750.8 1204.4,766.0 1206.5,756.6 1207.5,771.4 1208.6,755.4 1209.4,762.5 1211.6,750.1 1213.5,762.0 1215.2,747.6 1216.8,766.4 1219.0,754.7 1221.0,773.9 1222.3,754.0 1223.3,765.4 1225.3,756.4 1227.5,764.4 1228.7,757.5 1229.7,764.5 1231.2,753.3 1232.3,764.7 1233.1,755.7 1234.3,762.1 1236.0,756.4 1237.4,770.7 1238.4,756.9 1240.5,765.2 1241.6,757.2 1243.2,762.7 1244.6,752.9 1245.8,765.8 1247.3,755.3 1248.1,765.0 1249.7,752.8 1250.8,763.9 1252.5,753.3 1253.7,762.1 1255.8,753.4 1256.5,765.1 1258.0,753.6 1259.1,760.9 1259.9,755.4 1261.7,765.0 1262.8,754.4 1264.8,763.1 1266.5,752.5 1268.5,760.2 1269.6,746.1 1270.9,764.9 1272.0,752.7 1273.8,771.2 1275.8,747.8 1277.6,763.0 1278.7,753.8 1280.8,758.5 1281.7,748.0 1282.7,753.0 1284.5,742.1 1286.3,747.1 1287.6,739.9 1289.7,760.9 1291.9,742.9 1292.8,746.8 1294.8,740.5 1296.5,748.0 1297.4,739.9 1298.6,748.7 1299.7,741.9 1301.0,757.5 1303.0,740.4 1304.4,748.6 1305.7,740.0 1306.8,750.8 1308.7,742.2 1309.8,753.5 1311.3,740.7 1312.3,748.6 1314.3,735.2 1315.4,749.6 1316.3,740.0 1318.2,749.5" fill="none" stroke="#858585" stroke-width="1.4" stroke-dasharray="5 2.5" stroke-linejoin="round" />
<polyline points="220.9,748.7 226.1,754.1 232.6,746.4 245.0,738.6 252.8,732.4 259.0,728.8 265.2,735.5 271.4,744.0 279.1,747.9 293.1,752.6 311.7,758.8 331.9,760.3 339.6,768.1 351.3,776.6 358.3,775.9 364.5,783.6 376.9,775.1 384.6,776.6 390.8,768.1 398.6,773.5 403.3,773.5 406.2,771.2 417.1,766.5 423.3,768.4 446.5,765.8 469.8,763.4 490.0,762.7 496.2,748.7 503.2,744.5 509.4,750.2 516.4,742.5 522.6,744.0 530.3,758.0 536.5,766.5 542.7,789.0 549.3,795.7 555.9,777.4 562.1,778.6 569.1,772.0 581.5,770.9 589.3,768.4 595.5,768.9 608.5,766.1 628.7,766.1 641.9,767.3 648.1,767.3 654.3,775.5 661.3,771.2 666.7,776.6 674.5,784.4 681.5,777.4 687.7,783.6 694.6,779.4 707.8,782.1 714.0,760.3 720.7,750.2 728.8,760.3 741.2,766.5 745.8,765.0 770.7,760.8 804.8,756.5 806.2,756.5 812.4,716.9 818.6,704.5 825.6,696.7 832.6,693.6 839.6,688.6 845.8,695.9 852.8,700.1 859.7,697.8 865.9,698.7 872.9,706.8 879.1,717.7 891.5,731.6 899.3,737.1 911.7,742.5 924.1,744.8 933.4,744.8 955.2,747.9 975.3,751.8 986.2,756.5 1001.7,759.6 1011.0,760.3 1017.8,763.4 1024.7,759.1 1033.3,763.4 1048.8,765.0 1069.0,766.1 1082.9,767.0 1096.9,765.5 1110.9,767.8 1127.9,770.4 1149.6,773.5 1168.3,784.1 1176.0,799.1 1182.2,803.8 1196.2,788.3 1203.3,785.3 1217.2,772.5 1233.5,764.4 1249.8,760.9 1261.5,759.0 1280.1,759.0 1287.1,743.4 1296.4,730.6 1301.0,724.8 1308.0,731.8 1313.8,719.0 1319.7,718.3" fill="none" stroke="#555555" stroke-width="2.6" stroke-linejoin="round" />
<polyline points="228.7,831.7 230.3,808.4 233.4,785.2 237.2,766.5 241.9,755.7 252.8,748.7 262.1,744.0 269.8,743.3 272.9,751.0 277.6,766.5 282.2,782.8 291.5,785.9 305.5,783.6 319.5,783.6 331.9,781.3 339.6,779.7 347.4,765.0 355.2,754.1 370.7,744.0 386.2,745.6 399.4,740.2 404.8,751.0 412.6,761.9 420.0,763.4 426.0,758.0 431.8,750.2 436.0,760.0 441.9,775.8 455.9,770.4 472.9,765.8 490.0,767.3 500.1,771.2 502.4,765.0 508.6,747.9 519.5,726.2 528.0,721.5 535.8,723.1 545.1,722.3 551.3,735.5 555.9,739.4 564.5,730.9 572.2,737.1 583.1,740.9 592.4,744.0 597.1,754.1 601.7,755.7 609.3,747.1 615.5,743.3 629.5,737.1 643.4,735.5 648.1,737.1 654.3,746.4 659.0,757.2 666.7,754.1 672.9,747.9 680.7,741.4 691.5,744.0 699.3,739.4 710.2,737.8 714.8,736.3 722.6,743.3 733.4,750.2 744.3,756.9 752.1,759.6 762.9,752.6 775.3,744.0 790.8,740.2 802.3,737.1 809.3,731.6 815.5,724.6 820.2,714.6 827.9,709.9 835.7,706.8 841.1,702.9 845.8,706.0 852.0,713.8 859.0,710.7 868.3,708.4 879.1,711.5 885.3,726.2 893.1,740.2 900.9,746.4 907.8,750.2 922.6,752.6 936.5,749.5 955.2,749.5 966.0,745.6 976.9,749.5 987.7,754.1 997.0,762.7 1004.8,765.8 1016.2,765.8 1024.7,768.9 1036.4,771.2 1050.3,766.5 1069.0,762.7 1082.9,758.8 1110.9,758.8 1129.5,763.4 1143.4,768.1 1157.4,770.4 1169.8,779.0 1186.9,783.6 1190.5,784.2 1203.3,777.2 1217.2,770.2 1233.5,766.7 1249.8,762.0 1268.5,758.1 1280.1,758.6 1289.4,737.6 1298.7,726.0 1310.4,721.3 1313.8,720.1" fill="none" stroke="#000" stroke-width="2.8" stroke-dasharray="4 7.5" stroke-linejoin="round" stroke-linecap="round"/>
<polyline points="220.8,1322.1 220.8,1319.6 220.7,1316.9 220.7,1314.3 220.7,1311.8 220.9,1309.6 221.5,1308.0 222.6,1306.9 224.0,1306.3 225.6,1305.4 227.1,1304.1 228.8,1302.6 230.6,1300.8 232.5,1298.9 234.4,1296.9 236.1,1294.9 237.9,1292.7 239.7,1290.4 241.4,1288.0 243.1,1285.5 244.8,1282.9 246.5,1280.3 248.3,1277.3 250.1,1274.1 251.9,1270.9 253.6,1267.6 255.3,1264.4 257.0,1261.4 258.4,1258.9 259.9,1256.4 261.3,1254.0 262.6,1251.6 264.0,1249.2 265.4,1246.8 266.8,1249.2 268.3,1251.6 269.8,1254.0 271.2,1256.4 272.6,1258.9 273.8,1261.4 274.8,1264.2 275.6,1267.1 276.2,1270.1 276.9,1273.0 277.8,1275.7 279.0,1278.2 280.3,1280.0 281.8,1281.7 283.4,1283.2 285.1,1284.6 286.8,1286.1 288.4,1287.6 290.2,1286.8 292.0,1286.1 293.8,1285.4 295.6,1284.6 297.3,1283.6 298.9,1282.3 300.9,1280.2 302.7,1277.7 304.4,1274.9 306.1,1271.9 307.7,1268.8 309.3,1265.6 311.2,1261.8 313.0,1257.7 314.8,1253.5 316.6,1249.2 318.2,1244.9 319.8,1240.5 321.4,1235.6 322.9,1230.3 324.3,1224.8 325.7,1219.8 326.9,1215.5 328.1,1212.4 329.1,1210.3 330.3,1209.1 332.1,1208.9 334.3,1209.3 335.8,1209.8 337.3,1210.5 338.9,1211.4 340.5,1212.4 341.8,1213.4 343.1,1214.6 344.4,1216.0 345.7,1217.4 347.0,1218.8 348.3,1220.2 349.6,1221.7 350.9,1223.1 352.2,1224.6 353.4,1226.2 354.7,1227.8 356.0,1229.5 357.5,1231.7 358.9,1234.2 360.3,1236.7 361.8,1239.2 363.5,1241.5 365.3,1243.5 367.4,1245.1 369.8,1246.3 372.3,1247.4 374.8,1248.5 377.2,1249.7 379.3,1251.2 381.1,1253.0 382.8,1254.9 384.3,1256.9 385.8,1259.0 387.2,1261.3 388.6,1263.6 390.3,1266.5 391.9,1269.5 393.6,1272.7 395.1,1276.0 396.6,1279.2 397.9,1282.3 398.8,1285.0 399.5,1287.9 400.2,1290.7 400.9,1293.3 401.8,1295.6 403.2,1297.6 404.8,1299.0 406.8,1300.2 408.9,1301.2 411.1,1302.0 413.3,1302.5 415.4,1302.7 417.2,1302.6 418.9,1302.2 420.6,1301.6 422.3,1300.9 424.0,1300.2 425.7,1299.7 427.4,1299.2 429.1,1298.6 430.9,1298.0 432.6,1297.6 434.3,1297.4 435.9,1297.6 437.7,1298.5 439.5,1299.9 441.2,1301.7 442.9,1303.5 444.5,1305.0 446.1,1305.8 447.6,1306.0 449.1,1305.8 450.6,1305.4 452.2,1304.8 454.1,1304.1 456.1,1303.1 458.2,1301.9 460.4,1300.6 462.5,1299.2 464.5,1297.6 466.7,1295.6 468.8,1293.4 470.9,1291.0 473.0,1288.5 474.9,1285.9 476.8,1283.3 478.7,1280.4 480.5,1277.4 482.2,1274.3 483.8,1271.2 485.4,1268.0 487.0,1264.9 488.5,1261.9 490.0,1258.8 491.4,1255.8 492.8,1252.7 494.0,1249.6 495.2,1246.5 496.1,1243.3 496.8,1239.8 497.5,1236.3 498.2,1233.0 499.1,1230.2 500.3,1228.1 501.5,1227.0 503.0,1226.4 504.5,1225.9 506.0,1225.5 507.5,1225.0 509.1,1226.7 510.7,1228.4 512.3,1230.1 514.0,1231.8 515.7,1233.5 517.7,1235.3 520.6,1237.8 523.9,1240.4 527.3,1243.1 530.9,1245.8 534.5,1248.3 538.1,1250.6 541.5,1252.5 544.9,1254.1 548.4,1255.6 551.9,1257.1 555.3,1258.8 558.6,1260.8 562.2,1263.4 565.7,1266.4 569.2,1269.5 572.6,1272.8 575.9,1276.0 579.0,1279.2 581.7,1282.0 584.3,1284.9 586.8,1287.7 589.1,1290.5 591.3,1293.2 593.3,1295.6 594.5,1297.2 595.5,1298.8 596.4,1300.2 597.3,1301.6 598.3,1302.8 599.5,1303.8 600.9,1304.6 602.5,1305.1 604.1,1305.5 605.8,1305.7 607.6,1305.8 609.6,1305.8 611.6,1305.7 613.8,1305.4 616.0,1305.0 618.2,1304.5 620.4,1303.8 622.8,1302.9 625.3,1301.8 627.7,1300.5 630.2,1299.1 632.5,1297.4 634.8,1295.6 637.4,1293.1 639.9,1290.3 642.3,1287.2 644.6,1283.9 646.9,1280.5 649.1,1277.2 651.4,1273.6 653.7,1269.7 655.8,1265.8 657.9,1261.9 659.7,1258.1 661.3,1254.7 662.2,1252.5 662.9,1250.3 663.5,1248.3 664.1,1246.3 664.7,1244.4 665.4,1242.4 666.2,1240.5 667.0,1238.6 667.9,1236.8 668.8,1234.9 669.6,1233.1 670.5,1231.2 672.3,1231.4 674.0,1231.5 675.8,1231.7 677.7,1232.2 679.8,1232.9 682.1,1233.8 684.5,1234.9 687.0,1236.1 689.5,1237.6 692.0,1239.3 695.3,1242.1 698.7,1245.4 702.2,1249.1 705.6,1253.0 709.0,1256.9 712.4,1260.8 715.9,1264.7 719.5,1268.8 723.1,1272.9 726.6,1277.0 729.9,1281.2 732.9,1285.3 735.2,1289.2 737.2,1293.5 738.9,1297.7 740.8,1301.7 742.8,1305.2 745.2,1307.8 747.3,1309.2 749.6,1310.3 752.0,1311.1 754.5,1311.6 757.0,1311.9 759.5,1311.9 762.2,1311.6 764.9,1310.9 767.6,1310.0 770.4,1308.8 773.1,1307.3 775.8,1305.8 779.0,1303.7 782.2,1301.2 785.3,1298.4 788.4,1295.4 791.4,1292.4 794.2,1289.4 796.8,1286.5 799.4,1283.6 801.9,1280.6 804.3,1277.5 806.5,1274.3 808.5,1271.0 810.4,1267.3 812.2,1263.2 813.7,1259.0 815.2,1254.9 816.5,1251.4 817.7,1248.5 818.7,1246.5 819.5,1245.0 820.4,1243.4 822.1,1243.9 823.7,1244.2 825.4,1244.6 827.1,1245.1 828.8,1245.7 830.7,1246.5 833.8,1248.2 837.1,1250.3 840.6,1252.8 844.1,1255.5 847.7,1258.2 851.1,1260.8 854.5,1263.4 858.0,1266.1 861.4,1268.9 864.8,1271.7 868.2,1274.4 871.6,1277.2 875.1,1279.9 878.6,1282.6 882.1,1285.4 885.5,1288.1 888.9,1290.8 892.0,1293.5 894.6,1296.0 897.0,1298.5 899.3,1301.1 901.6,1303.6 903.9,1305.8 906.3,1307.8 908.3,1309.3 910.3,1310.6 912.3,1311.9 914.4,1312.9 916.5,1313.6 918.6,1314.0 920.9,1313.9 923.2,1313.3 925.6,1312.4 928.0,1311.2 930.4,1310.0 932.9,1308.9 935.9,1307.6 939.1,1306.3 942.3,1304.9 945.5,1303.3 948.5,1301.6 951.3,1299.7 953.7,1297.7 955.9,1295.5 958.0,1293.1 959.9,1290.6 961.8,1288.0 963.6,1285.3 965.5,1282.1 967.3,1278.5 969.0,1274.9 970.7,1271.3 972.2,1267.9 973.8,1264.9 974.9,1263.1 975.9,1261.5 976.9,1260.0 977.9,1258.6 978.9,1257.2 979.9,1255.7 981.4,1255.8 983.0,1255.9 984.5,1256.1 986.1,1256.7 987.8,1258.0 989.4,1259.8 991.1,1262.1 992.8,1264.4 994.5,1266.8 996.3,1269.0 998.3,1271.0 1000.3,1273.0 1002.4,1275.0 1004.5,1277.0 1006.5,1279.1 1008.5,1281.3 1010.5,1283.8 1012.5,1286.5 1014.4,1289.2 1016.3,1292.0 1018.1,1294.8 1020.0,1297.6 1021.7,1300.5 1023.3,1303.6 1024.9,1306.8 1026.6,1309.7 1028.5,1312.2 1030.7,1314.0 1033.1,1315.0 1035.7,1315.6 1038.6,1315.7 1041.4,1315.6 1044.3,1315.4 1047.0,1315.0 1049.5,1314.5 1051.9,1313.9 1054.2,1313.1 1056.6,1312.1 1058.9,1311.0 1061.3,1309.9 1064.1,1308.5 1066.9,1307.1 1069.8,1305.4 1072.5,1303.7 1075.2,1301.8 1077.7,1299.7 1080.0,1297.3 1082.2,1294.7 1084.3,1292.0 1086.2,1289.1 1088.1,1286.2 1090.0,1283.3 1091.9,1280.4 1093.6,1277.4 1095.4,1274.3 1097.0,1271.2 1098.7,1268.1 1100.2,1264.9 1101.7,1261.6 1103.2,1258.3 1104.6,1255.0 1105.9,1251.5 1107.2,1248.1 1108.4,1244.5 1109.5,1240.5 1110.5,1236.3 1111.4,1232.0 1112.3,1227.8 1113.3,1223.7 1114.5,1219.9 1115.7,1216.9 1116.9,1214.0 1118.2,1211.3 1119.5,1208.6 1121.0,1206.1 1122.7,1203.6 1124.5,1201.4 1126.6,1199.3 1128.8,1197.4 1131.0,1195.4 1133.0,1193.4 1134.9,1191.3 1136.4,1189.0 1137.8,1186.7 1139.0,1184.3 1140.2,1181.8 1141.5,1179.4 1143.1,1177.0 1145.1,1174.2 1147.4,1171.4 1149.7,1168.6 1152.2,1165.9 1154.8,1163.2 1157.4,1160.6 1160.3,1158.0 1163.3,1155.6 1166.4,1153.2 1169.6,1150.9 1172.7,1148.6 1175.8,1146.3 1178.6,1144.1 1181.4,1141.9 1184.1,1139.7 1186.9,1137.7 1189.6,1135.7 1192.2,1134.0 1194.4,1132.7 1196.5,1131.5 1198.6,1130.4 1200.7,1129.4 1202.7,1128.6 1204.5,1127.9 1206.2,1127.3 1207.6,1126.9 1209.1,1126.6 1210.8,1126.7 1212.8,1127.2 1214.9,1128.2 1217.1,1129.4 1219.4,1130.8 1221.8,1132.3 1224.1,1133.7 1226.7,1135.2 1229.3,1136.8 1232.0,1138.5 1234.6,1140.2 1237.3,1141.8 1239.9,1143.4 1242.3,1144.8 1244.6,1146.1 1246.9,1147.4 1249.2,1148.7 1251.6,1150.0 1254.0,1151.4 1256.8,1153.0 1259.7,1154.6 1262.7,1156.2 1265.6,1157.9 1268.6,1159.5 1271.6,1161.1 1274.5,1162.6 1277.5,1164.1 1280.5,1165.6 1283.5,1167.1 1286.4,1168.5 1289.3,1169.9 1292.0,1171.1 1294.6,1172.3 1297.2,1173.5 1299.9,1174.6 1302.5,1175.7 1305.1,1176.9 1307.7,1178.1 1310.4,1179.3 1313.0,1180.4 1315.7,1181.6 1318.3,1182.8 1321.0,1184.0" fill="none" stroke="#000" stroke-width="2.4" stroke-dasharray="8 10.5" stroke-linejoin="round" />
<polyline points="221.0,1309.9 221.0,1306.7 221.0,1303.5 220.9,1300.3 220.9,1297.1 221.1,1293.9 221.5,1290.5 222.4,1286.5 223.5,1282.3 224.9,1278.1 226.4,1273.8 227.9,1269.4 229.3,1265.0 230.7,1260.2 232.1,1255.4 233.5,1250.5 234.8,1245.5 236.2,1240.1 237.5,1234.3 239.3,1225.1 241.0,1214.8 242.7,1204.0 244.3,1193.0 246.0,1182.5 247.7,1172.9 249.0,1166.2 250.4,1159.9 251.7,1153.8 253.1,1147.9 254.5,1142.0 255.9,1136.1 257.3,1130.4 258.7,1124.7 260.2,1119.1 261.6,1113.6 263.1,1108.0 264.5,1102.4 265.2,1302.0 265.6,1246.0 268.0,1262.0 267.5,1250.0 268.2,1253.4 269.0,1256.9 269.7,1260.3 270.5,1263.7 271.2,1267.0 272.0,1270.0 272.6,1272.2 273.3,1274.1 274.0,1276.0 274.6,1277.9 275.3,1279.9 276.0,1282.0 276.9,1284.9 277.8,1287.9 278.7,1291.1 279.6,1294.3 280.6,1297.5 281.5,1300.7 282.3,1297.6 283.2,1294.6 284.0,1291.5 284.8,1288.4 285.7,1285.0 286.6,1281.3 288.2,1274.8 289.9,1267.5 291.6,1259.7 293.4,1251.5 295.2,1243.0 296.8,1234.3 298.7,1223.2 300.4,1211.5 302.2,1199.3 303.8,1186.9 305.4,1174.6 307.0,1162.7 308.4,1151.3 309.8,1139.7 311.1,1128.1 312.4,1117.0 313.8,1106.6 315.2,1097.3 316.1,1091.6 317.1,1086.1 318.0,1080.9 319.0,1076.2 320.1,1072.0 321.3,1068.6 322.2,1066.9 323.1,1065.5 324.0,1064.3 325.0,1063.2 326.0,1062.0 327.1,1060.8 328.2,1059.7 329.3,1058.6 330.5,1057.5 331.6,1056.4 331.9,1065.3 332.2,1074.0 332.5,1082.8 332.9,1091.7 333.2,1100.7 333.5,1110.0 333.9,1120.9 334.3,1132.2 334.7,1143.6 335.1,1155.2 335.5,1166.8 335.9,1178.3 339.0,1126.3 339.7,1269.8 344.4,1181.4 344.9,1284.6 349.8,1177.5 350.6,1308.6 354.5,1246.6 355.3,1310.2 357.6,1266.7 358.8,1311.7 362.2,1272.2 363.0,1315.6 370.0,1245.0 370.8,1311.7 375.9,1255.9 377.0,1312.5 380.6,1279.9 381.6,1316.4 382.8,1303.0 384.0,1314.0 385.3,1305.0 387.1,1316.0 389.0,1311.0 391.7,1320.3 393.3,1319.7 394.9,1319.0 396.5,1318.4 397.9,1318.0 399.5,1318.0 401.1,1318.0 402.5,1317.4 404.1,1316.5 405.7,1315.4 407.3,1314.0 408.7,1312.5 410.1,1310.7 411.5,1308.7 412.9,1306.5 414.2,1304.2 415.4,1301.7 417.0,1297.9 418.5,1293.6 419.9,1289.1 421.2,1284.3 422.4,1279.6 423.6,1275.1 424.6,1270.9 425.5,1266.6 426.4,1262.3 427.2,1258.2 427.9,1254.2 428.7,1250.6 429.2,1248.1 429.8,1245.9 430.3,1243.7 430.8,1241.6 431.3,1239.5 431.8,1237.3 431.7,1250.9 431.4,1265.9 431.1,1280.8 431.1,1294.4 431.5,1305.2 432.8,1311.9 434.3,1313.8 435.9,1315.0 436.9,1313.9 438.0,1312.8 439.0,1311.7 440.0,1310.6 441.0,1309.3 442.0,1307.8 443.5,1304.9 444.9,1301.7 446.3,1298.0 447.6,1294.0 448.9,1289.8 450.2,1285.3 452.0,1278.0 453.8,1269.8 455.4,1260.9 457.1,1251.9 458.7,1242.8 460.4,1234.2 462.1,1226.3 463.8,1218.6 465.5,1211.0 467.3,1203.3 469.0,1195.4 470.6,1187.2 472.4,1177.3 474.2,1166.8 476.0,1156.1 477.7,1145.5 479.4,1135.3 480.9,1125.9 482.0,1119.1 482.9,1112.6 483.8,1106.4 484.7,1100.4 485.8,1094.6 487.0,1089.1 488.2,1084.8 489.4,1080.8 490.7,1077.0 492.1,1073.2 493.5,1069.4 494.8,1065.6 496.0,1066.5 497.2,1067.2 498.3,1068.2 499.3,1069.6 500.5,1072.9 501.4,1077.5 502.0,1082.8 502.5,1088.8 502.9,1095.0 503.4,1101.3 504.1,1110.4 504.6,1120.3 505.1,1130.7 505.5,1141.5 505.9,1152.2 506.4,1162.7 506.9,1173.3 507.5,1184.3 508.1,1195.2 508.6,1205.8 509.1,1215.5 509.5,1224.0 509.7,1228.4 509.9,1232.3 510.0,1235.9 510.2,1239.4 510.3,1242.9 510.5,1246.5 513.6,1244.5 516.7,1283.3 517.7,1267.0 519.7,1285.3 521.8,1271.0 522.6,1271.0 523.6,1273.8 524.4,1271.7 525.1,1275.1 526.5,1275.1 527.5,1279.2 528.6,1277.2 529.9,1281.2 530.9,1279.7 531.7,1283.0 533.0,1282.0 534.1,1284.9 534.9,1282.6 536.3,1285.1 537.2,1283.4 538.6,1288.5 539.5,1285.2 540.4,1287.6 541.8,1286.0 542.6,1293.6 544.1,1287.1 545.4,1290.7 546.6,1290.3 547.5,1295.4 548.8,1290.1 549.9,1293.7 550.7,1291.4 551.8,1295.0 552.8,1292.7 554.1,1295.8 555.4,1293.5 556.7,1297.9 557.9,1295.6 559.0,1298.3 559.8,1296.9 561.1,1299.8 562.0,1297.6 563.1,1300.2 564.3,1297.0 565.2,1300.9 566.2,1298.7 567.6,1300.4 568.5,1298.6 569.9,1307.9 571.1,1300.9 572.2,1305.0 573.3,1303.7 574.7,1306.5 575.8,1305.1 576.6,1309.7 577.3,1307.7 578.3,1309.3 579.4,1308.3 580.3,1311.1 581.6,1308.9 582.8,1312.2 583.8,1311.8 584.6,1314.2 585.8,1312.1 586.9,1314.3 587.9,1312.6 589.3,1316.3 590.2,1313.6 591.0,1316.9 592.4,1315.0 593.4,1316.5 593.8,1316.4 594.2,1316.3 595.3,1316.6 596.4,1317.0 598.0,1315.9 599.6,1314.8 601.3,1313.8 602.9,1312.7 604.3,1311.4 605.6,1309.9 606.7,1307.7 607.5,1305.2 608.1,1302.4 608.7,1299.5 609.3,1296.5 610.2,1293.5 611.6,1289.7 613.3,1285.8 615.1,1281.8 616.9,1277.6 618.7,1273.4 620.4,1269.0 622.2,1263.9 624.0,1258.7 625.7,1253.3 627.4,1247.8 629.1,1242.1 630.7,1236.3 632.5,1229.5 634.3,1222.5 636.0,1215.3 637.7,1208.0 639.3,1200.6 640.9,1193.3 642.4,1185.7 643.9,1177.9 645.3,1170.1 646.7,1162.4 647.9,1155.1 649.1,1148.4 649.9,1143.6 650.6,1138.9 651.2,1134.3 651.8,1130.2 652.5,1126.6 653.2,1123.8 653.9,1122.3 654.5,1121.2 655.2,1119.7 656.2,1115.9 657.2,1110.7 658.2,1104.5 659.2,1098.1 660.3,1092.1 661.3,1087.0 662.0,1084.1 662.7,1081.5 663.4,1079.0 664.0,1076.6 664.7,1074.2 665.4,1071.7 666.1,1073.8 666.8,1075.8 667.6,1077.8 668.3,1079.9 668.9,1082.3 669.5,1085.0 670.3,1091.0 671.0,1098.1 671.4,1105.9 671.8,1114.4 672.1,1123.1 672.6,1132.0 673.2,1144.2 673.8,1157.8 674.5,1171.9 675.1,1185.7 675.8,1198.6 676.7,1209.7 677.3,1215.8 677.8,1221.4 678.4,1226.7 679.1,1231.6 679.9,1236.1 680.8,1240.4 681.6,1243.0 682.5,1245.4 683.4,1247.5 684.4,1249.6 685.2,1252.0 685.9,1254.7 686.6,1259.6 687.0,1265.1 687.2,1271.1 687.2,1277.3 687.3,1283.4 687.5,1289.4 691.0,1262.9 692.1,1265.6 693.1,1268.4 694.1,1271.2 695.2,1273.9 696.5,1276.6 698.1,1279.2 700.3,1282.1 702.8,1284.9 705.6,1287.7 708.6,1290.4 711.6,1293.0 714.5,1295.6 717.5,1298.2 720.6,1300.7 723.7,1303.2 726.9,1305.6 729.9,1307.8 732.9,1309.9 735.2,1311.4 737.4,1312.8 739.6,1314.0 741.8,1315.2 744.0,1316.4 746.2,1317.7 748.1,1316.1 750.0,1314.6 751.9,1313.1 753.8,1311.6 755.6,1309.8 757.4,1307.8 759.6,1304.8 761.8,1301.5 763.8,1297.9 765.8,1294.0 767.8,1289.8 769.7,1285.3 772.3,1278.1 774.9,1270.1 777.3,1261.5 779.6,1252.4 781.8,1243.3 784.0,1234.2 786.3,1224.3 788.5,1214.0 790.6,1203.6 792.6,1193.2 794.5,1182.9 796.3,1172.9 797.9,1163.8 799.3,1154.4 800.7,1145.1 802.0,1136.3 803.3,1128.4 804.5,1121.8 805.1,1118.9 805.7,1116.5 806.3,1114.3 806.9,1112.2 807.5,1110.0 808.2,1107.5 809.1,1103.8 810.0,1099.7 811.0,1095.4 812.1,1091.3 813.1,1087.7 814.3,1085.0 815.5,1083.3 816.7,1082.1 818.0,1080.9 818.6,1082.3 819.2,1083.6 819.8,1085.1 820.4,1087.0 821.1,1091.0 821.7,1096.2 822.2,1102.2 822.7,1108.6 823.1,1115.3 823.5,1121.8 824.0,1129.7 824.3,1138.1 824.7,1146.7 825.0,1155.5 825.3,1164.3 825.6,1172.9 825.9,1181.7 826.2,1190.8 826.5,1199.9 826.8,1208.7 827.2,1216.8 827.6,1224.0 827.9,1228.0 828.3,1231.5 828.6,1234.8 829.0,1238.0 829.3,1241.2 829.6,1244.5 829.9,1248.1 830.2,1252.0 830.5,1255.8 830.7,1259.4 830.8,1262.5 830.7,1264.9 830.3,1266.5 829.9,1268.0 829.8,1269.5 829.8,1271.4 829.9,1273.5 830.1,1275.7 830.2,1277.9 830.3,1280.0 830.8,1266.8 832.5,1299.0 834.5,1276.9 836.6,1294.3 839.0,1280.6 841.3,1296.5 843.0,1280.5 845.1,1305.4 847.5,1283.1 849.3,1306.4 851.0,1286.2 852.9,1306.9 854.5,1291.5 856.2,1309.2 857.8,1293.0 859.5,1312.6 861.1,1296.0 862.7,1311.5 864.2,1298.7 865.4,1313.6 866.6,1299.7 867.8,1314.9 869.2,1300.5 870.3,1315.9 871.8,1302.6 873.5,1316.3 875.3,1305.8 876.8,1318.4 878.4,1305.8 880.1,1315.7 881.6,1307.9 883.3,1316.6 884.9,1309.9 886.6,1317.9 888.0,1309.8 889.3,1318.4 890.8,1310.3 892.1,1319.2 893.5,1312.4 895.0,1318.9 896.6,1313.0 897.9,1318.7 899.5,1312.5 900.6,1318.5 902.1,1315.0 903.4,1320.2 907.3,1322.1 909.9,1318.5 912.6,1315.1 915.2,1311.7 917.8,1308.1 920.3,1304.2 922.7,1299.7 925.9,1292.1 928.8,1283.5 931.5,1274.1 934.1,1264.3 936.5,1254.3 939.0,1244.5 941.6,1233.8 944.1,1222.8 946.5,1211.6 948.9,1200.5 951.1,1189.5 953.3,1179.0 955.2,1170.0 957.0,1161.0 958.7,1152.1 960.4,1143.6 962.1,1135.5 963.6,1127.9 964.7,1122.5 965.7,1117.2 966.7,1112.2 967.7,1107.4 968.7,1103.1 969.7,1099.3 970.3,1097.3 970.9,1095.5 971.6,1093.9 972.2,1092.3 972.8,1090.7 973.4,1089.1 974.6,1090.2 975.8,1091.4 976.9,1093.2 978.2,1098.1 979.3,1105.3 980.0,1113.9 980.7,1123.4 981.3,1133.1 982.0,1142.2 982.8,1152.0 983.4,1162.2 984.1,1172.5 984.7,1183.0 985.4,1193.4 986.1,1203.6 987.0,1213.9 988.0,1224.6 989.0,1235.3 990.0,1245.5 990.9,1254.7 991.5,1262.5 991.7,1266.0 991.9,1269.1 992.0,1271.8 992.2,1274.5 992.3,1277.1 992.5,1280.0 992.8,1283.3 993.1,1286.9 993.4,1290.4 993.8,1293.9 994.1,1297.1 994.5,1300.0 994.7,1301.7 995.0,1303.3 995.2,1304.7 995.5,1306.1 995.7,1307.5 996.0,1309.0 996.2,1306.7 996.4,1304.4 996.5,1302.0 996.8,1299.7 997.1,1297.7 997.5,1296.0 998.2,1294.5 999.1,1293.2 1000.0,1292.0 1001.2,1292.1 1002.3,1292.5 1003.4,1293.3 1004.4,1294.4 1005.3,1296.0 1005.9,1298.1 1006.2,1300.9 1006.3,1304.1 1006.4,1307.5 1006.5,1310.8 1006.6,1314.0 1007.4,1312.6 1008.1,1311.1 1009.0,1310.0 1010.4,1309.4 1011.9,1309.0 1013.5,1310.4 1015.0,1312.0 1016.0,1313.5 1017.0,1315.1 1018.2,1316.5 1019.7,1317.5 1021.4,1318.2 1023.2,1318.9 1025.0,1319.5 1026.5,1319.9 1028.0,1320.2 1029.6,1320.5 1031.1,1320.8 1032.7,1321.1 1034.8,1318.9 1036.9,1316.9 1039.1,1314.8 1041.1,1312.6 1043.1,1310.3 1045.0,1307.8 1047.0,1304.5 1048.8,1301.0 1050.5,1297.3 1052.1,1293.4 1053.6,1289.4 1055.2,1285.3 1057.0,1280.6 1058.8,1275.7 1060.6,1270.6 1062.3,1265.5 1063.9,1260.2 1065.4,1254.7 1067.0,1248.3 1068.4,1241.7 1069.8,1234.8 1071.0,1227.9 1072.3,1220.9 1073.6,1213.8 1075.0,1206.1 1076.4,1198.3 1077.8,1190.3 1079.2,1182.4 1080.5,1174.5 1081.8,1166.8 1082.9,1159.7 1083.9,1152.6 1084.8,1145.5 1085.8,1138.7 1086.8,1132.1 1087.9,1125.9 1088.9,1121.4 1089.8,1117.1 1090.9,1113.0 1091.9,1109.0 1093.0,1105.0 1094.0,1100.9 1096.0,1102.0 1098.0,1103.1 1100.0,1104.3 1102.0,1105.4 1104.1,1106.5 1106.3,1107.5 1108.8,1108.6 1111.5,1109.7 1114.2,1110.7 1117.0,1111.7 1119.8,1112.6 1122.7,1113.6 1126.0,1114.7 1129.3,1115.7 1132.7,1116.7 1136.2,1117.7 1139.7,1118.7 1143.1,1119.7 1146.5,1120.7 1149.9,1121.8 1153.3,1122.9 1156.8,1123.9 1160.2,1124.9 1163.6,1125.9 1167.0,1126.8 1170.5,1127.7 1174.0,1128.6 1177.5,1129.5 1180.8,1130.3 1184.0,1131.0 1186.4,1131.5 1188.7,1132.0 1190.9,1132.4 1193.0,1132.9 1195.3,1133.3 1197.6,1133.7 1200.4,1134.2 1203.3,1134.6 1206.3,1135.0 1209.2,1135.5 1212.2,1135.9 1215.2,1136.4 1218.2,1136.9 1221.1,1137.5 1224.1,1138.2 1227.0,1138.8 1229.9,1139.4 1232.9,1139.9 1235.9,1140.4 1238.9,1140.8 1242.0,1141.2 1245.0,1141.6 1247.8,1142.1 1250.5,1142.6 1252.4,1143.1 1254.2,1143.6 1256.0,1144.2 1257.7,1144.7 1259.4,1145.2 1261.1,1145.6 1262.9,1145.9 1264.8,1146.0 1266.7,1146.1 1268.5,1146.3 1270.1,1146.6 1271.6,1147.0 1273.3,1147.8 1274.7,1148.9 1276.0,1150.5 1277.2,1153.3 1278.0,1157.1 1278.7,1161.7 1279.3,1166.6 1279.8,1171.8 1280.4,1176.9 1281.1,1183.6 1281.8,1190.8 1282.4,1198.2 1283.0,1205.9 1283.5,1213.5 1284.0,1221.0 1284.5,1228.4 1284.9,1235.7 1285.3,1243.1 1285.8,1250.5 1286.2,1257.8 1286.6,1265.0 1287.0,1272.1 1287.4,1279.3 1287.7,1286.5 1288.2,1293.4 1288.7,1299.8 1289.3,1305.6 1289.8,1309.0 1290.4,1312.0 1291.0,1314.9 1291.6,1317.6 1292.2,1320.4 1292.8,1323.2 1319.2,1323.2" fill="none" stroke="#000" stroke-width="2.6" stroke-linejoin="round" />
</svg>
</body></html>
